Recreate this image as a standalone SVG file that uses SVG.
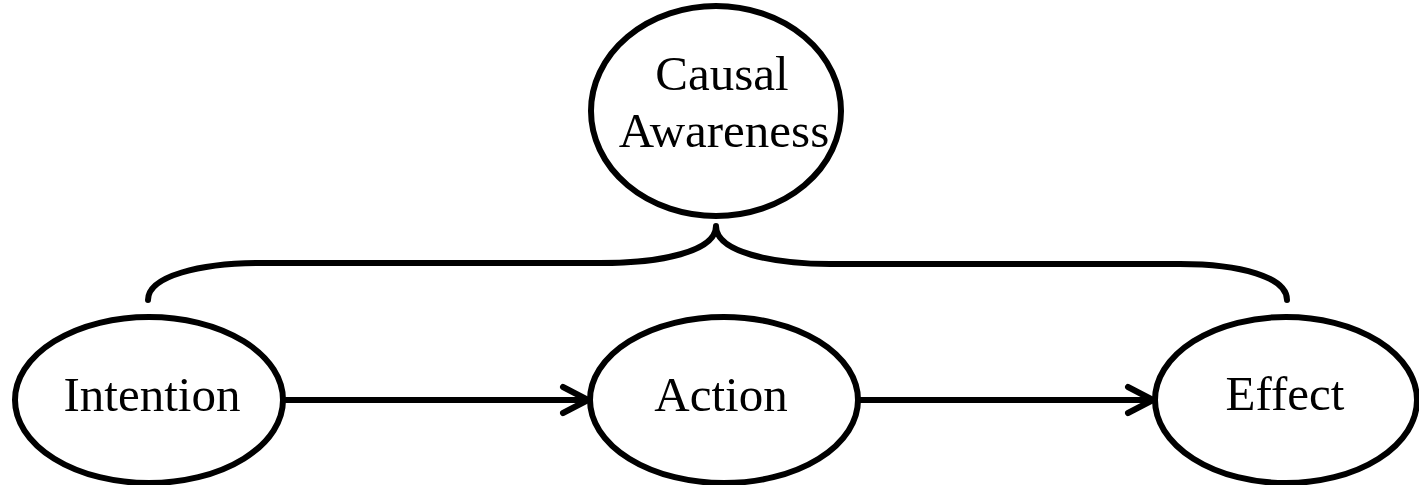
<svg xmlns="http://www.w3.org/2000/svg" width="1419" height="485" viewBox="0 0 1419 485">
<style>
.node ellipse{fill:#fff;stroke:#000;stroke-width:6}
.node text{font-family:"Liberation Serif",serif;font-size:49px;fill:#000;text-anchor:middle}
.conn path{fill:none;stroke:#000;stroke-width:6;stroke-linecap:round;stroke-linejoin:round}
</style>
<defs>
<marker id="arr" viewBox="0 0 34 34" refX="29" refY="17" markerWidth="34" markerHeight="34" markerUnits="userSpaceOnUse" orient="auto">
<path d="M4,4 L29,17 L4,30" fill="none" stroke="#000" stroke-width="6" stroke-linecap="round" stroke-linejoin="round"/>
</marker>
</defs>
<g class="conn" id="connectors">
<path d="M148,300 C148,276 200,263 262,263 L600,263 C660,263 716,252 716,226 C716,252 772,264 830,264 L1180,264 C1240,264 1287,277 1287,300"/>
<path d="M286,400 L588,400" marker-end="url(#arr)"/>
<path d="M860,400 L1153,400" marker-end="url(#arr)"/>
</g>
<g class="node" id="causal-awareness">
<ellipse cx="716" cy="111" rx="125" ry="105"/>
<text x="722" y="90">Causal</text>
<text x="724" y="147">Awareness</text>
</g>
<g class="node" id="intention">
<ellipse cx="149" cy="400" rx="134" ry="83"/>
<text x="152" y="411">Intention</text>
</g>
<g class="node" id="action">
<ellipse cx="724" cy="400" rx="134" ry="83"/>
<text x="721" y="411">Action</text>
</g>
<g class="node" id="effect">
<ellipse cx="1286" cy="400" rx="131" ry="83"/>
<text x="1285" y="410">Effect</text>
</g>
</svg>
